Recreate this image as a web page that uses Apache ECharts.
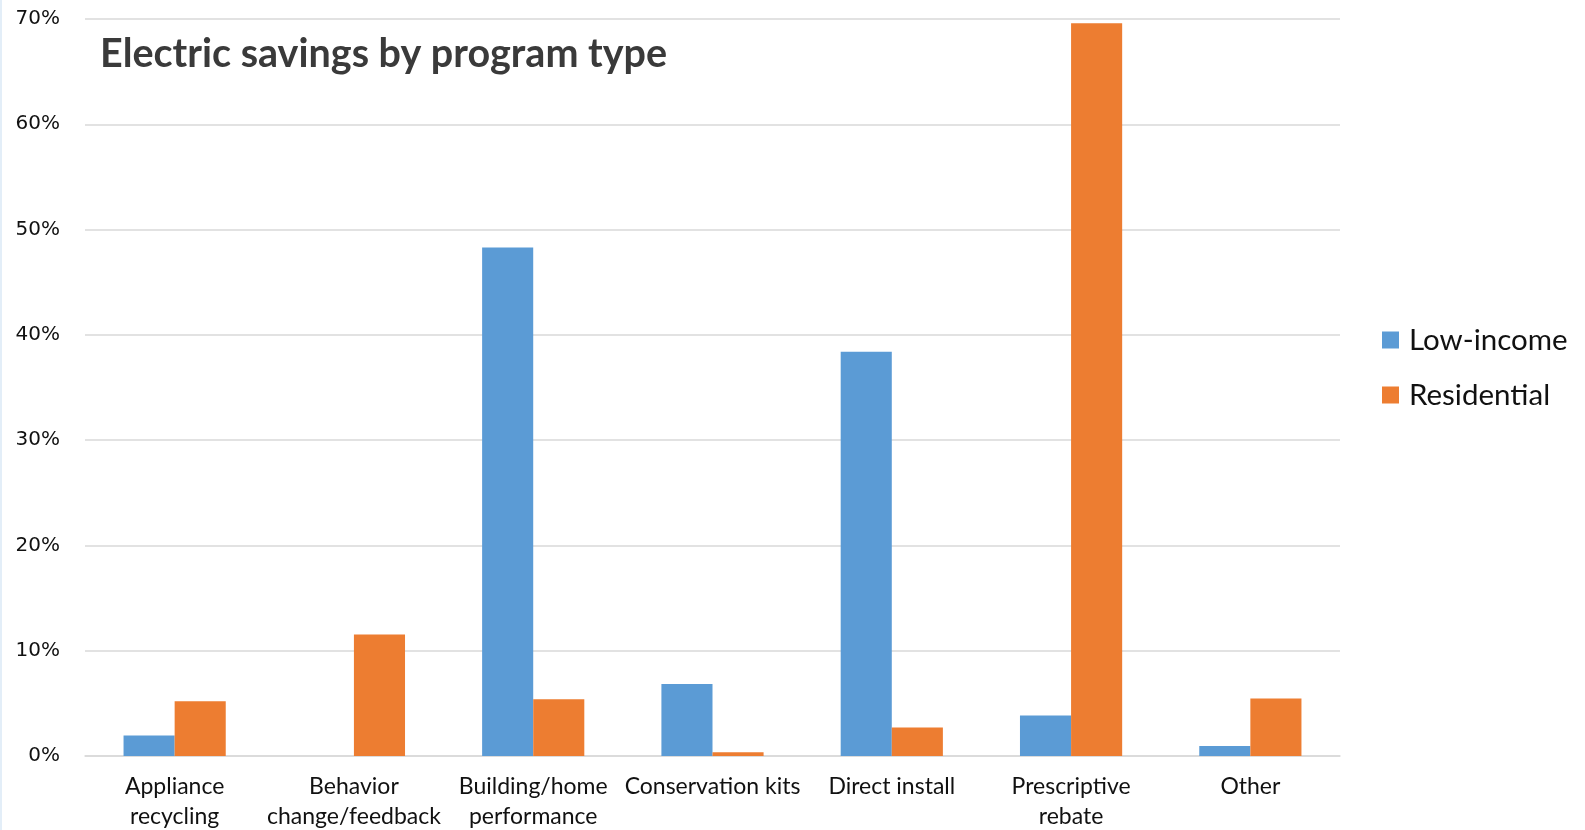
<!DOCTYPE html>
<html lang="en">
<head>
<meta charset="UTF-8">
<title>Electric savings by program type</title>
<script src="https://cdn.jsdelivr.net/npm/echarts@6/dist/echarts.min.js"></script>
<style>
    html, body {
        margin: 0;
        padding: 0;
        background: #fff;
    }

    #chart {
        width: 1585px;
        height: 830px;
        box-sizing: border-box;
        border-left: 2px solid #e3eef8;
    }
</style>
</head>
<body>
<div id="chart"></div>
<script type="text/javascript">
    // program types along the x axis
    let programTypes = ['Appliance\nrecycling', 'Behavior\nchange/feedback', 'Building/home\nperformance',
        'Conservation kits', 'Direct install', 'Prescriptive\nrebate', 'Other'];
    // share of electric savings, percent
    let lowIncome = [1.95, 0, 48.3, 6.85, 38.4, 3.85, 0.95];
    let residential = [5.2, 11.55, 5.4, 0.35, 2.7, 69.6, 5.45];

    let savingsChart = echarts.init(document.getElementById('chart'));

    let option = {
        backgroundColor: '#fff',
        title: {
            text: 'Electric savings by program type',
            left: 93,
            top: 29,
            textStyle: {
                fontFamily: 'Lato',
                fontWeight: 'bold',
                fontSize: 39.5,
                color: '#3a3a3a'
            }
        },
        legend: {
            data: ['Low-income', 'Residential'],
            orient: 'vertical',
            left: 1375,
            top: 320,
            itemWidth: 17,
            itemHeight: 17,
            itemGap: 25,
            icon: 'rect',
            textStyle: {
                fontFamily: 'Lato',
                fontSize: 29.5,
                color: '#111',
                padding: [0, 0, 0, 5]
            }
        },
        grid: {
            left: 83,
            right: 245,
            top: 19,
            bottom: 74,
            outerBoundsMode: 'none'
        },
        xAxis: {
            type: 'category',
            data: programTypes,
            axisTick: {show: false},
            axisLine: {lineStyle: {color: '#d9d9d9', width: 1.5}},
            axisLabel: {
                interval: 0,
                margin: 16,
                fontFamily: 'Lato',
                fontSize: 23,
                lineHeight: 30,
                color: '#111'
            }
        },
        yAxis: {
            type: 'value',
            min: 0,
            max: 70,
            interval: 10,
            axisLine: {show: false},
            axisTick: {show: false},
            splitLine: {lineStyle: {color: '#d9d9d9', width: 1.5}},
            axisLabel: {
                formatter: '{value}%',
                margin: 25,
                fontFamily: 'DejaVu Sans',
                fontSize: 20,
                color: '#111'
            }
        },
        series: [
            {
                name: 'Low-income',
                type: 'bar',
                barGap: 0,
                barCategoryGap: '43%',
                color: '#5b9bd5',
                data: lowIncome
            },
            {
                name: 'Residential',
                type: 'bar',
                barGap: 0,
                barCategoryGap: '43%',
                color: '#ed7d31',
                data: residential
            }
        ]
    };

    savingsChart.setOption(option);
</script>
</body>
</html>
